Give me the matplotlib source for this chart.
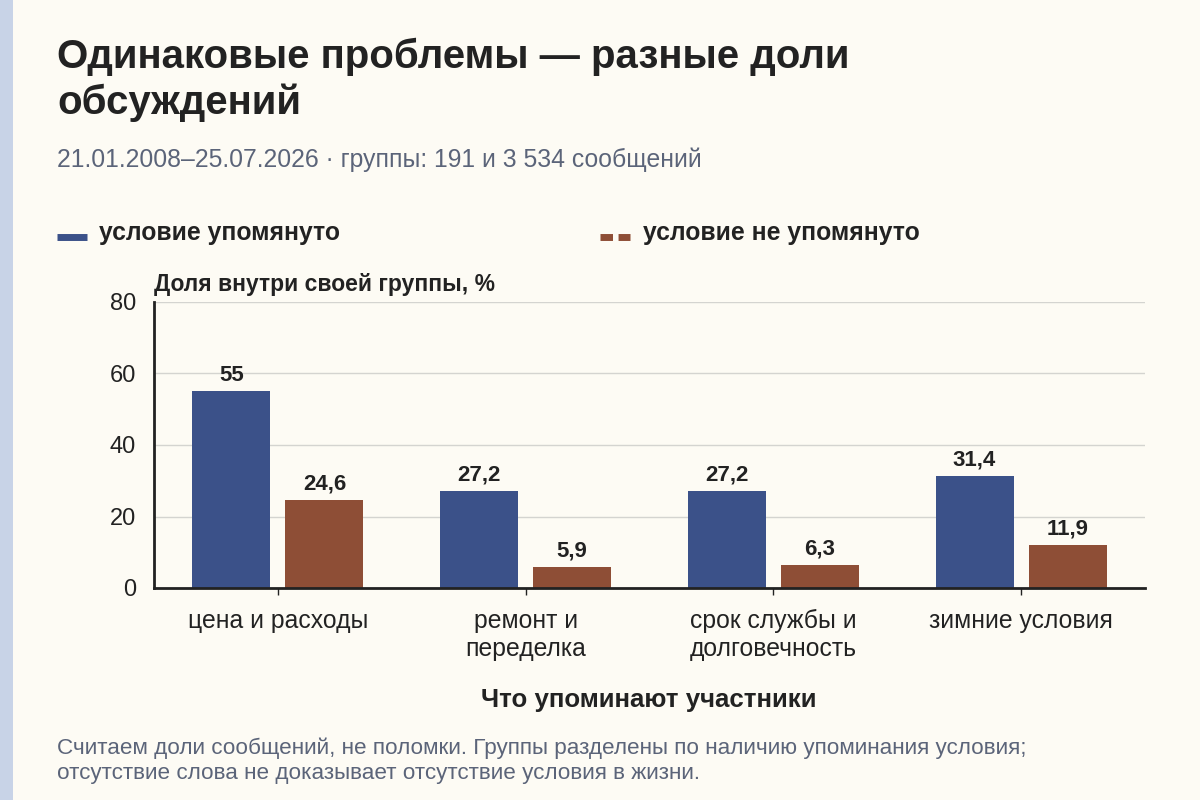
import numpy as np
import matplotlib.pyplot as plt
from matplotlib.patches import Rectangle
from matplotlib.lines import Line2D

plt.rcParams['font.family'] = ['Liberation Sans', 'DejaVu Sans']

categories = ['цена и расходы', 'ремонт и\nпеределка', 'срок службы и\nдолговечность', 'зимние условия']
mentioned = [55, 27.2, 27.2, 31.4]
not_mentioned = [24.6, 5.9, 6.3, 11.9]
series_names = ['условие упомянуто', 'условие не упомянуто']
yticks = [0, 20, 40, 60, 80]

bg = '#FDFBF4'
blue = '#3B5189'
brown = '#8E4E36'
dark = '#222222'
muted = '#5B6479'

fig = plt.figure(figsize=(12, 8), dpi=100, facecolor=bg)

# left accent strip
fig.patches.append(Rectangle((0, 0), 13 / 1200, 1, transform=fig.transFigure,
                             facecolor='#C8D3E7', edgecolor='none'))

fig.text(57 / 1200, 1 - 38 / 800, 'Одинаковые проблемы — разные доли\nобсуждений',
         fontsize=29, fontweight='bold', color=dark, va='top', ha='left',
         linespacing=1.24)
fig.text(57 / 1200, 1 - 160 / 800, '21.01.2008–25.07.2026 · группы: 191 и 3 534 сообщений',
         fontsize=17.8, color=muted, va='center', ha='left')

# legend
fig.lines.append(Line2D([57 / 1200, 87 / 1200], [1 - 237 / 800] * 2, transform=fig.transFigure,
                        color=blue, lw=5, solid_capstyle='butt'))
fig.lines.append(Line2D([600 / 1200, 630 / 1200], [1 - 237 / 800] * 2, transform=fig.transFigure,
                        color=brown, lw=5, linestyle=(0, (1.8, 0.8)), dash_capstyle='butt'))
fig.text(99 / 1200, 1 - 233 / 800, series_names[0], fontsize=17.8, fontweight='bold',
         color=dark, va='center', ha='left')
fig.text(643 / 1200, 1 - 233 / 800, series_names[1], fontsize=17.8, fontweight='bold',
         color=dark, va='center', ha='left')

ax = fig.add_axes([154 / 1200, 1 - 588 / 800, (1145 - 154) / 1200, (588 - 302) / 800])
ax.set_facecolor(bg)

x = np.arange(len(categories))
w = 0.315
off = 0.188
b1 = ax.bar(x - off, mentioned, w, color=blue, zorder=3)
b2 = ax.bar(x + off, not_mentioned, w, color=brown, zorder=3)

for bars, vals in [(b1, mentioned), (b2, not_mentioned)]:
    for rect, v in zip(bars, vals):
        lab = f'{v:g}'.replace('.', ',')
        ax.annotate(lab, (rect.get_x() + rect.get_width() / 2, v), xytext=(0, 4),
                    textcoords='offset points', ha='center', va='bottom',
                    fontsize=16, fontweight='bold', color=dark)

ax.set_xlim(-0.5, len(categories) - 0.5)
ax.set_ylim(0, 80)
ax.set_yticks(yticks)
ax.set_xticks(x)
ax.set_xticklabels(categories, fontsize=17.8, color=dark)
ax.tick_params(axis='y', length=0, labelsize=17, labelcolor=dark, pad=13)
ax.tick_params(axis='x', length=5, width=1, color=dark, pad=10)
ax.grid(axis='y', color='#D4D4D0', lw=1, zorder=0)
for s in ['top', 'right']:
    ax.spines[s].set_visible(False)
for s in ['left', 'bottom']:
    ax.spines[s].set_color(dark)
    ax.spines[s].set_linewidth(2)
    ax.spines[s].set_zorder(4)

fig.text(649 / 1200, 1 - 700 / 800, 'Что упоминают участники', fontsize=18.6,
         fontweight='bold', color=dark, va='center', ha='center')
fig.text(154 / 1200, 1 - 285 / 800, 'Доля внутри своей группы, %', fontsize=16.5,
         fontweight='bold', color=dark, va='center', ha='left')

fig.text(57 / 1200, 1 - 761 / 800,
         'Считаем доли сообщений, не поломки. Группы разделены по наличию упоминания условия;\n'
         'отсутствие слова не доказывает отсутствие условия в жизни.',
         fontsize=16.2, color=muted, va='center', ha='left', linespacing=1.25)

fig.savefig('out.png', dpi=100, facecolor=bg)
